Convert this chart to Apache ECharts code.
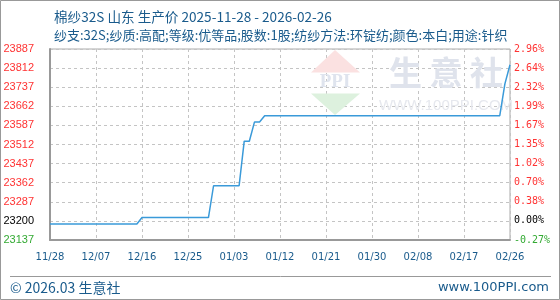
<!DOCTYPE html>
<html>
<head>
<meta charset="utf-8">
<script src="https://cdn.jsdelivr.net/npm/echarts@6/dist/echarts.min.js"></script>
<style>
html,body{margin:0;padding:0;background:#fff;}
#c{width:560px;height:300px;}
</style>
</head>
<body>
<div id="c"></div>
<script>
var titleText = '棉纱32S 山东 生产价 2025-11-28 - 2026-02-26';
var subtitleText = '纱支:32S;纱质:高配;等级:优等品;股数:1股;纺纱方法:环锭纺;颜色:本白;用途:针织';

var dates = [
 '11/28','11/29','11/30',
 '12/01','12/02','12/03','12/04','12/05','12/06','12/07','12/08','12/09','12/10',
 '12/11','12/12','12/13','12/14','12/15','12/16','12/17','12/18','12/19','12/20',
 '12/21','12/22','12/23','12/24','12/25','12/26','12/27','12/28','12/29','12/30','12/31',
 '01/01','01/02','01/03','01/04','01/05','01/06','01/07','01/08','01/09','01/10',
 '01/11','01/12','01/13','01/14','01/15','01/16','01/17','01/18','01/19','01/20',
 '01/21','01/22','01/23','01/24','01/25','01/26','01/27','01/28','01/29','01/30','01/31',
 '02/01','02/02','02/03','02/04','02/05','02/06','02/07','02/08','02/09','02/10',
 '02/11','02/12','02/13','02/14','02/15','02/16','02/17','02/18','02/19','02/20',
 '02/21','02/22','02/23','02/24','02/25','02/26'
];

var prices = [
 23200,23200,23200,
 23200,23200,23200,23200,23200,23200,23200,23200,23200,23200,
 23200,23200,23200,23200,23200,23225,23225,23225,23225,23225,
 23225,23225,23225,23225,23225,23225,23225,23225,23225,23350,23350,
 23350,23350,23350,23350,23525,23525,23600,23600,23625,23625,
 23625,23625,23625,23625,23625,23625,23625,23625,23625,23625,
 23625,23625,23625,23625,23625,23625,23625,23625,23625,23625,23625,
 23625,23625,23625,23625,23625,23625,23625,23625,23625,23625,
 23625,23625,23625,23625,23625,23625,23625,23625,23625,23625,
 23625,23625,23625,23625,23750,23825
];

var leftLabels = ['23137','23200','23287','23362','23437','23512','23587','23662','23737','23812','23887'];
var rightLabels = ['-0.27%','0.00%','0.38%','0.70%','1.02%','1.35%','1.67%','1.99%','2.32%','2.64%','2.96%'];
var yMin = 23137, yMax = 23887, yStep = 75;

function styleKey(i){ return i === 0 ? 'g' : (i === 1 ? 'k' : 'r'); }

var chart = echarts.init(document.getElementById('c'), null, {renderer:'canvas'});
var blue = '#1a5b8c';
var option = {
  animation: false,
  backgroundColor: '#fff',
  title: [
    {text: titleText, left: 49, top: 5, textStyle: {fontFamily: 'Noto Sans CJK SC', fontSize: 13.6, fontWeight: 'normal', color: blue}},
    {text: subtitleText, left: 49, top: 24, textStyle: {fontFamily: 'Noto Sans CJK SC', fontSize: 13, fontWeight: 'normal', color: blue}}
  ],
  grid: {left: 50, right: 50, top: 49, bottom: 60, show: true, borderColor: '#aaa', borderWidth: 1, containLabel: false},
  xAxis: {
    type: 'category', data: dates, boundaryGap: false,
    axisLine: {show: true, lineStyle: {color: '#999', width: 2}},
    axisTick: {show: false},
    axisLabel: {interval: 8, margin: 12, color: blue, fontFamily: 'DejaVu Sans', fontSize: 10},
    splitLine: {show: true, interval: 8, lineStyle: {color: '#c4c4c4', type: [3,3], width: 1}}
  },
  yAxis: [
    {
      type: 'value', min: yMin, max: yMax, interval: yStep, position: 'left',
      axisLine: {show: true, lineStyle: {color: '#999', width: 2}},
      axisTick: {show: false},
      splitLine: {show: true, lineStyle: {color: '#c4c4c4', type: [3,3], width: 1}},
      axisLabel: {
        margin: 16,
        formatter: function(v){ var i = Math.round((v - yMin)/yStep); return '{' + styleKey(i) + '|' + leftLabels[i] + '}'; },
        rich: {
          r: {color: '#ff3333', fontFamily: 'Liberation Sans', fontSize: 11},
          k: {color: '#000', fontFamily: 'Liberation Sans', fontSize: 11},
          g: {color: '#33aa33', fontFamily: 'Liberation Sans', fontSize: 11}
        }
      }
    },
    {
      type: 'value', min: yMin, max: yMax, interval: yStep, position: 'right',
      axisLine: {show: false}, axisTick: {show: false}, splitLine: {show: false},
      axisLabel: {
        margin: 4,
        formatter: function(v){ var i = Math.round((v - yMin)/yStep); return '{' + styleKey(i) + '|' + rightLabels[i] + '}'; },
        rich: {
          r: {color: '#ff3333', fontFamily: 'DejaVu Sans Mono', fontSize: 10},
          k: {color: '#000', fontFamily: 'DejaVu Sans Mono', fontSize: 10},
          g: {color: '#33aa33', fontFamily: 'DejaVu Sans Mono', fontSize: 10}
        }
      }
    }
  ],
  series: [{
    type: 'line', data: prices, showSymbol: false, symbol: 'none', z: 5,
    lineStyle: {color: '#3a9ad9', width: 1.5}
  }],
  graphic: [
    {type: 'rect', shape: {x: 0.5, y: 0.5, width: 559, height: 299}, style: {fill: 'none', stroke: '#999', lineWidth: 1}, z: 0, silent: true},
    {type: 'polygon', shape: {points: [[335,50],[311,72.5],[360,72.5]]}, style: {fill: '#fbe1e1'}, z: 1, silent: true},
    {type: 'polygon', shape: {points: [[311,93.5],[360,93.5],[335,115]]}, style: {fill: '#ddf1de'}, z: 1, silent: true},
    {type: 'text', x: 335, y: 82, style: {text: 'PPI', fill: '#dfe4ee', font: 'bold 19px "Liberation Serif"', align: 'center', verticalAlign: 'middle'}, z: 1, silent: true},
    {type: 'text', x: 446, y: 72, style: {text: '生 意 社', fill: '#dfe3ec', font: 'bold 33px "Noto Sans CJK SC"', align: 'center', verticalAlign: 'middle'}, z: 1, silent: true},
    {type: 'text', x: 446, y: 106, style: {text: 'WWW.100PPI.COM', fill: '#e6e8ee', font: '15px "Liberation Sans"', align: 'center', verticalAlign: 'middle'}, z: 1, silent: true},
    {type: 'line', shape: {x1: 10, y1: 276.5, x2: 551, y2: 276.5}, style: {stroke: '#999', lineWidth: 1}, silent: true},
    {type: 'text', x: 10, y: 288, style: {text: '© 2026.03 生意社', fill: blue, font: '14px "Noto Sans CJK SC"', verticalAlign: 'middle'}, silent: true},
    {type: 'text', x: 549, y: 288, style: {text: 'www.100PPI.com', fill: blue, font: '13px "DejaVu Sans"', align: 'right', verticalAlign: 'middle'}, silent: true}
  ]
};
chart.setOption(option);
</script>
</body>
</html>
